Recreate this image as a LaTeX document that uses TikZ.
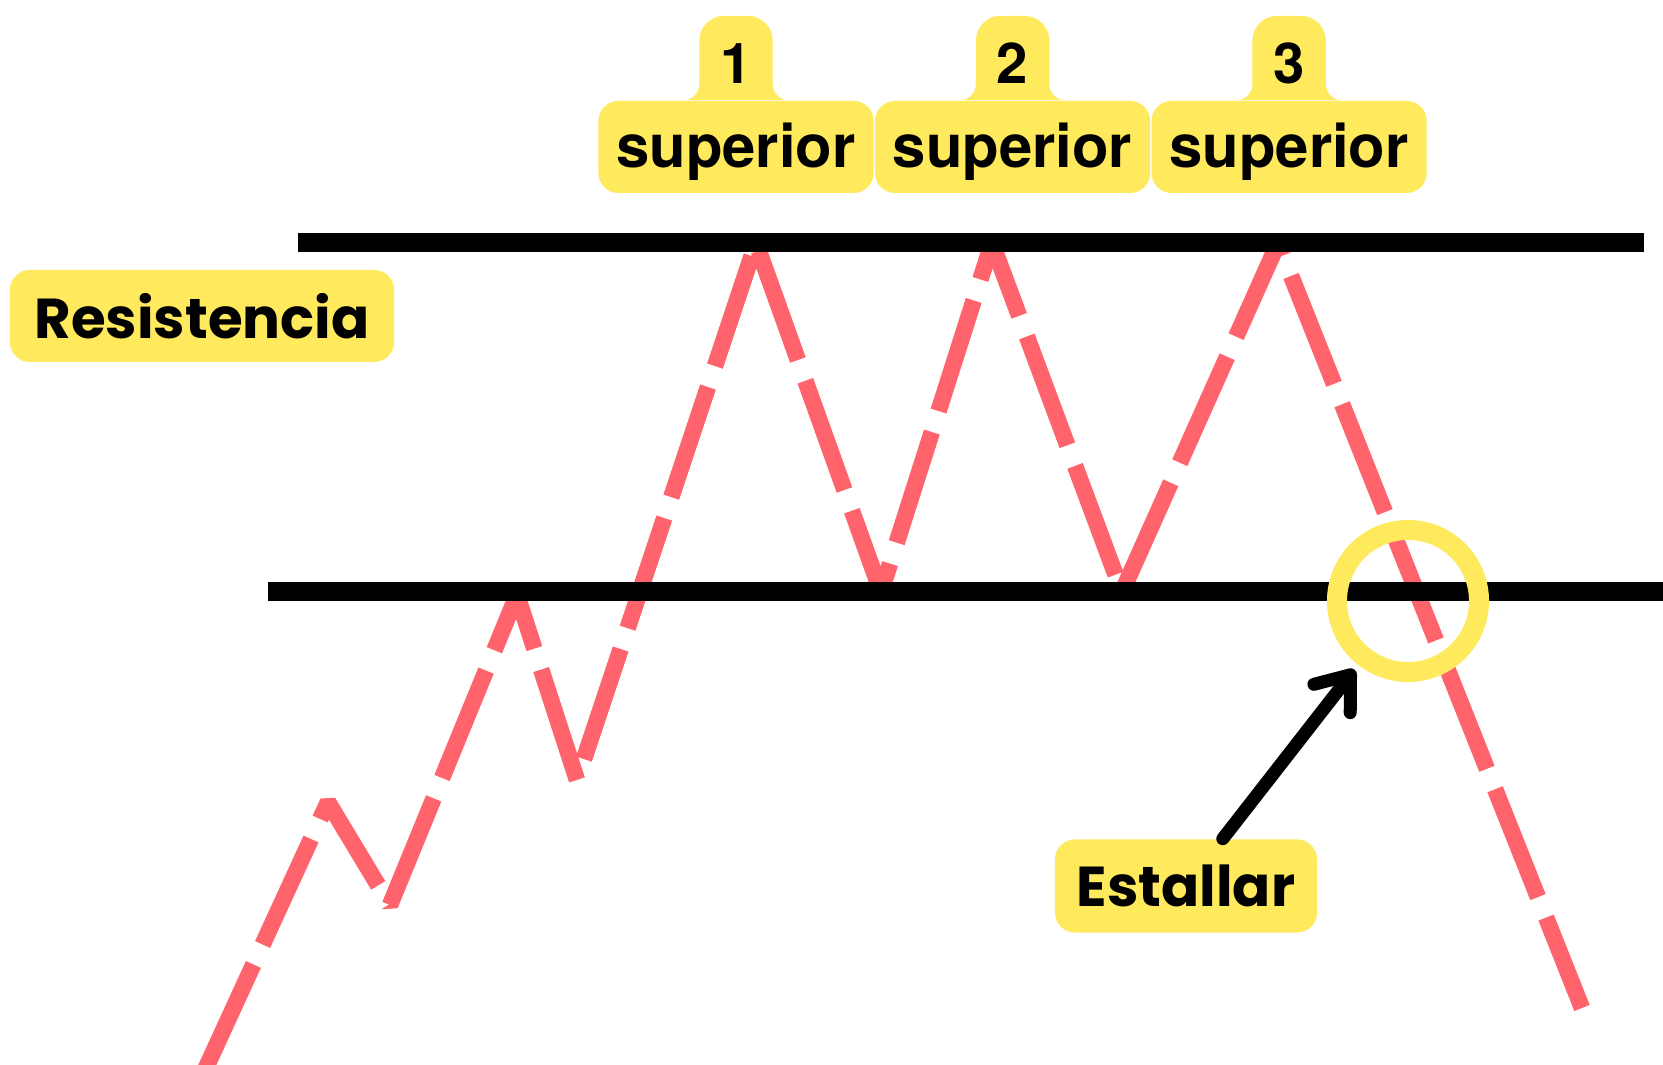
\documentclass[tikz,border=0pt]{standalone}
\usepackage{fontspec}
\newfontfamily\popfont{Poppins}
\newfontfamily\herosfont{TeX Gyre Heros}
\usetikzlibrary{arrows.meta,positioning,backgrounds}
\definecolor{hl}{HTML}{FFE95C}
\definecolor{trendred}{HTML}{FF636C}

\begin{document}
\begin{tikzpicture}[x=0.01cm,y=0.01cm,
  tag/.style={fill=hl,rounded corners=0.2cm,inner sep=0pt,minimum width=2.75cm,minimum height=0.92cm,text height=0.54cm,text depth=0.13cm,font=\herosfont\bfseries\fontsize{17}{17}\selectfont},
  num/.style={inner sep=0pt,minimum width=0.72cm,minimum height=0.83cm,text height=0.5cm,text depth=0pt,font=\herosfont\bfseries\fontsize{16}{16}\selectfont},
  lab/.style={fill=hl,rounded corners=0.2cm,inner sep=0pt,font=\popfont\bfseries\fontsize{16}{16}\selectfont},
  level/.style={line width=0.19cm},
  price/.style={draw=trendred,line width=0.165cm,line join=bevel,dash pattern=on 1.16cm off 0.22cm},
  arr/.style={-{Straight Barb[length=3mm,width=4.6mm,round]},line width=0.13cm,line cap=round,shorten >=0.06cm}]
\useasboundingbox (0,0) rectangle (1663,1065);
% price line
\draw[price] (205,-5) -- (328,263) -- (390,160) -- (517,470) -- (577,285) -- (756,822)
  -- (881,473) -- (992,822) -- (1122,473) -- (1278,822) -- (1582,57);
% support and resistance
\draw[level] (298,822) -- (1644,822);
\draw[level] (268,473) -- (1663,473);
\node[draw=hl,line width=0.2cm,circle,inner sep=0pt,minimum size=1.42cm] (brk) at (1408,464) {};
% labels
\node[lab,minimum width=3.84cm,minimum height=0.92cm] (res) at (202,749) {Resistencia};
\node[lab,minimum width=2.62cm,minimum height=0.93cm] (est) at (1186,179) {Estallar};
\draw[arr] (est) -- (brk);
\node[tag] (sup1) at (736,918) {superior};
\node[tag,right=0pt of sup1] (sup2) {superior};
\node[tag,right=0pt of sup2] (sup3) {superior};
\node[num,above=0pt of sup1] (d1) {1};
\node[num,above=0pt of sup2] (d2) {2};
\node[num,above=0pt of sup3] (d3) {3};
\begin{scope}[on background layer]
\foreach \d in {d1,d2,d3}
  \fill[hl] ([xshift=-0.16cm]\d.south west) arc[start angle=270,end angle=360,radius=0.16cm]
    -- ([yshift=-0.25cm]\d.north west) arc[start angle=180,end angle=90,radius=0.25cm]
    -- ([xshift=-0.25cm]\d.north east) arc[start angle=90,end angle=0,radius=0.25cm]
    -- ([yshift=0.16cm]\d.south east) arc[start angle=180,end angle=270,radius=0.16cm] -- cycle;
\end{scope}
\end{tikzpicture}
\end{document}
